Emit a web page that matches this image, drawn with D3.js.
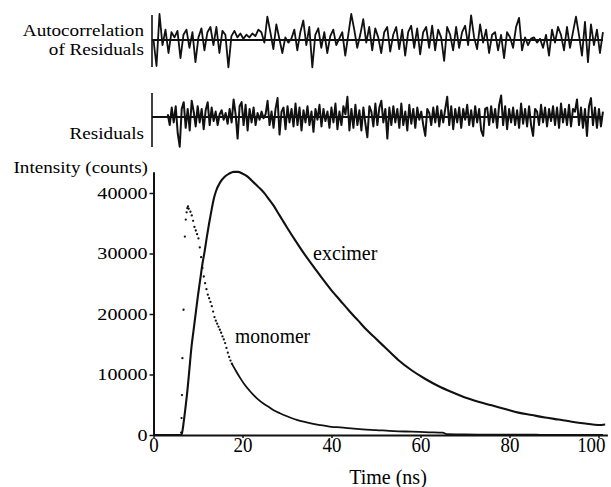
<!DOCTYPE html>
<html><head><meta charset="utf-8">
<script src="https://cdn.jsdelivr.net/npm/d3@7"></script>
<style>
body{margin:0;background:#fff;}
svg text{font-family:"Liberation Serif","Times New Roman",serif;fill:#000;}
</style></head><body><svg id="c" width="611" height="487"></svg>
<script>
// ---------- data ----------
const xTicks = [0, 20, 40, 60, 80, 100];
const yTicks = [0, 10000, 20000, 30000, 40000];
const panelLabels = ["Autocorrelation", "of Residuals", "Residuals"];
const axisLabels = ["Intensity (counts)", "Time (ns)"];
const seriesLabels = ["excimer", "monomer"];

const excTime = [0,6.2,6.4,6.8,7.2,7.6,8.0,8.5,9.0,9.5,10.0,10.5,11.0,11.5,12.0,12.5,13.0,13.5,14.0,15,16,17,18,19,20,21,22,23,24,25,26,27,28,29,30,32,34,36,38,40,42,44,46,48,50,52,55,58,61,64,67,70,73,76,79,82,85,88,91,94,97,100,101.5];
const excCounts = [0,0,300,2200,4600,7200,10300,14300,17300,20200,23100,25700,28300,30400,32800,35000,37000,38900,40200,41800,42700,43200,43500,43500,43200,42800,42100,41400,40700,39900,38900,37900,36700,35500,34300,32000,29800,27800,25800,23900,22200,20500,18900,17300,15900,14500,12400,10700,9300,8100,7100,6200,5500,4900,4300,3700,3300,2900,2550,2200,1900,1650,1750];

const monoDotTime = [6.2,6.3,6.4,6.5,6.75,7.05,7.25,7.45,7.6,7.75,7.9,8.3,8.6,8.9,9.2,9.5,9.8,10.1,10.4,10.7,11.0,11.3,11.6,11.9,12.2,12.5,12.8,13.1,13.4,13.7,14.0,14.3,14.6,14.9,15.2,15.5,15.8,16.1,16.4,16.7,17.0,17.3,17.6];
const monoDotCounts = [400,2800,6600,12700,20700,32800,35600,36800,37500,37800,37400,36900,36300,35400,34400,33800,33200,32500,31000,29400,27600,26200,25100,24100,23200,22600,22000,21300,20400,19500,18900,18400,17900,17400,16900,16300,15800,15200,14400,13600,12900,12300,11800];

const monoTailTime = [17.6,18.6,19.5,20.5,21.5,22.5,23.5,24.7,26,27,28.4,30,32.2,34.4,37.4,40,42,45,47,50,54,58,62,65,66,70,75,80,86,88,101];
const monoTailCounts = [11800,10500,9400,8300,7400,6600,5900,5200,4600,4100,3600,3100,2500,2100,1650,1350,1250,1050,940,820,650,550,450,380,120,80,60,70,50,0,0];

const autocorr = [0,-1.0,1.0,-0.2,0.4,-0.5,0.3,0.1,0.35,-0.7,0.2,0.4,-0.3,0.3,-0.85,0.1,0.45,-0.4,0.3,0.5,-0.2,0.5,-0.5,0.35,0.2,-1.05,0.15,0.35,0.1,0.25,0.05,0.2,0.1,0.25,0.15,0.4,0.3,-0.1,0.9,0.3,-0.35,0.6,0.05,-0.5,0.1,-0.1,0.05,0.4,-0.4,0.3,0.75,-0.2,0.5,-1.05,0.2,0.45,-0.3,0.3,-0.5,0.15,0.4,-0.2,0.05,0.3,-0.6,0.2,1.0,0.4,-0.3,0.2,0.8,-0.1,0.5,-0.4,0.45,0.1,-0.5,0.3,0.5,-0.45,0.2,0.5,-0.35,0.4,-0.6,0.3,0.55,-0.3,0.45,-0.55,0.3,0.5,-0.3,0.55,-0.4,0.4,0.1,-0.8,0.5,0.2,-0.4,0.5,-0.3,0.3,0.55,-0.2,0.95,0.1,-0.35,0.6,-0.1,0.4,-0.5,0.2,0.3,-0.4,0.2,-0.7,0.3,0.1,-0.3,0.5,0.85,-0.4,0.1,-0.2,0.05,0.1,-0.1,0.05,-0.3,0.2,-0.6,0.4,-0.1,0.5,0.2,-0.4,0.5,-0.3,0.3,0.9,0.2,-0.6,0.7,-0.85,0.6,-0.2,0.4,-0.5,0.3];

const residuals = [0.1,-0.3,0.35,-0.2,0.4,-0.6,-1.1,0.3,0.55,-0.4,0.3,-0.5,0.6,0.2,-0.35,0.4,-0.2,0.3,-0.45,0.25,0.55,-0.3,0.35,-0.15,0.2,-0.3,0.1,0.25,-0.1,0.15,-0.25,0.3,-0.2,0.65,0.1,-0.8,0.4,0.55,-0.3,0.45,-0.5,0.3,-0.2,0.35,-0.3,0.15,-0.1,0.2,-0.05,0.1,0.6,-0.3,0.2,-0.4,0.3,0.7,-0.65,0.2,0.35,-0.45,0.4,-0.2,0.3,-0.35,0.5,-0.3,0.35,-0.5,0.25,-0.2,0.4,-0.3,0.2,-0.55,0.3,-0.1,0.45,-0.35,0.3,-0.15,0.2,-0.4,0.35,-0.2,0.5,-0.45,0.2,-0.3,0.4,0.1,0.75,-0.5,0.3,-0.4,0.45,-0.3,0.25,-0.5,0.35,-0.25,-0.75,0.4,0.2,-0.35,0.5,-0.3,0.35,0.6,-0.2,0.3,-0.8,0.35,-0.3,0.4,-0.2,0.3,-0.4,0.5,-0.3,0.2,-0.5,0.45,-0.25,0.3,-0.4,0.35,-0.1,0.2,-0.3,-0.7,0.3,0.15,-0.3,0.35,-0.2,0.4,-0.35,0.25,-0.2,0.3,0.75,-0.3,0.4,-0.45,0.3,-0.2,0.35,-0.4,0.3,-0.1,0.45,-0.3,0.25,-0.35,0.4,-0.2,0.3,-0.5,-0.7,0.3,0.35,-0.3,0.4,-0.2,0.3,-0.4,0.45,0.8,-0.3,0.4,-0.45,0.3,-0.2,0.35,-0.3,0.25,-0.4,0.5,-0.25,0.3,-0.35,0.4,-0.3,-0.7,0.3,0.2,-0.3,0.45,-0.2,0.35,-0.35,0.3,-0.15,0.4,-0.3,0.35,-0.4,0.5,-0.2,0.3,-0.3,0.45,-0.35,0.3,0.2,0.65,-0.3,0.35,-0.4,0.3,-0.7,0.4,0.7,-0.3,0.35,-0.4,0.3,-0.35,0.2];
const residualStart = 3.2;   // ns, where the residual trace starts
const traceEnd = 101;        // ns, end of the top traces

// ---------- layout ----------
const svg = d3.select("#c");
const x = d3.scaleLinear().domain([0, 100]).range([153.5, 598.5]);
const y = d3.scaleLinear().domain([0, 40000]).range([435, 193]);
const ink = "#111";

function stretch(sel, f) {
  sel.each(function () {
    const w = this.getComputedTextLength();
    d3.select(this).attr("textLength", w * f).attr("lengthAdjust", "spacingAndGlyphs");
  });
}

// ---------- main axes ----------
const xAxisScale = x.copy().domain([0, 102]).range([x(0), x(102)]);
const gx = svg.append("g").attr("transform", `translate(0,${y(0)})`)
  .call(d3.axisBottom(xAxisScale).tickValues(xTicks).tickSize(3).tickPadding(-1).tickSizeOuter(0));
gx.select(".domain").attr("stroke", ink).attr("stroke-width", 2);
gx.selectAll(".tick line").attr("stroke", ink).attr("stroke-width", 1.5);
gx.selectAll(".tick text").attr("font-size", 21).attr("font-family", "Liberation Serif").attr("fill", "#000")
  .call(stretch, 0.9)
  .each(function (d) {
    // keep the right-most label inside the picture
    const right = 605;
    const w = +d3.select(this).attr("textLength");
    if (xAxisScale(d) + w / 2 > right) {
      d3.select(this).attr("text-anchor", "end").attr("x", right - xAxisScale(d));
    }
  });

const yAxisScale = y.copy().domain([0, 43500]).range([y(0), y(43500)]);
const gy = svg.append("g").attr("transform", `translate(${x(0)},0)`)
  .call(d3.axisLeft(yAxisScale).tickValues(yTicks).tickSize(4).tickPadding(2).tickSizeOuter(0).tickFormat(d3.format("d")));
gy.select(".domain").attr("stroke", ink).attr("stroke-width", 2);
gy.selectAll(".tick line").attr("stroke", ink).attr("stroke-width", 1.5);
gy.selectAll(".tick text").attr("font-size", 17).attr("font-family", "Liberation Serif").attr("fill", "#000")
  .call(stretch, 1.18);

// ---------- curves ----------
const excData = excTime.map((t, i) => [t, excCounts[i]]);
svg.append("path").datum(excData)
  .attr("fill", "none").attr("stroke", ink).attr("stroke-width", 2.1)
  .attr("d", d3.line().x(d => x(d[0])).y(d => y(d[1])).curve(d3.curveMonotoneX));

const monoTail = monoTailTime.map((t, i) => [t, monoTailCounts[i]]);
svg.append("path").datum(monoTail)
  .attr("fill", "none").attr("stroke", ink).attr("stroke-width", 1.8)
  .attr("d", d3.line().x(d => x(d[0])).y(d => y(d[1])).curve(d3.curveMonotoneX));

const monoDots = monoDotTime.map((t, i) => [t, monoDotCounts[i]]);
svg.append("g").selectAll("circle").data(monoDots).join("circle")
  .attr("cx", d => x(d[0])).attr("cy", d => y(d[1])).attr("r", 1.15).attr("fill", ink);

// ---------- top panels ----------
const aY = d3.scaleLinear().domain([-1, 1]).range([66, 14]);
const rY = d3.scaleLinear().domain([-1, 1]).range([144, 90]);
const aT = d3.scaleLinear().domain([0, autocorr.length - 1]).range([0, traceEnd]);
const rT = d3.scaleLinear().domain([0, residuals.length - 1]).range([residualStart, traceEnd]);

function panel(sc, top, bottom) {
  svg.append("line").attr("x1", x(0) - 1.5).attr("x2", x(0) - 1.5).attr("y1", top).attr("y2", bottom)
    .attr("stroke", ink).attr("stroke-width", 1.6);
  svg.append("line").attr("x1", x(0) - 1.5).attr("x2", x(traceEnd)).attr("y1", sc(0)).attr("y2", sc(0))
    .attr("stroke", ink).attr("stroke-width", 2.2);
}
panel(aY, 15, 67);
panel(rY, 93, 147);

svg.append("path").datum(autocorr)
  .attr("fill", "none").attr("stroke", ink).attr("stroke-width", 1.8).attr("stroke-linejoin", "round")
  .attr("d", d3.line().x((d, i) => x(aT(i))).y(d => aY(d)));
svg.append("path").datum(residuals)
  .attr("fill", "none").attr("stroke", ink).attr("stroke-width", 2).attr("stroke-linejoin", "round")
  .attr("d", d3.line().x((d, i) => x(rT(i))).y(d => rY(d)));

// ---------- text ----------
function label(txt, px, py, anchor, fs, f) {
  svg.append("text").attr("x", px).attr("y", py).attr("text-anchor", anchor)
    .attr("font-size", fs).text(txt).call(stretch, f);
}
label(panelLabels[0], 144, 36, "end", 16.5, 1.16);
label(panelLabels[1], 144, 55, "end", 16.5, 1.16);
label(panelLabels[2], 144, 139, "end", 16.5, 1.16);
label(axisLabels[0], 148, 173, "end", 16.5, 1.16);
label(axisLabels[1], 388, 484, "middle", 20, 1.0);
label(seriesLabels[0], 313, 260, "start", 20, 1.0);
label(seriesLabels[1], 235, 343, "start", 20, 0.98);
</script></body></html>
